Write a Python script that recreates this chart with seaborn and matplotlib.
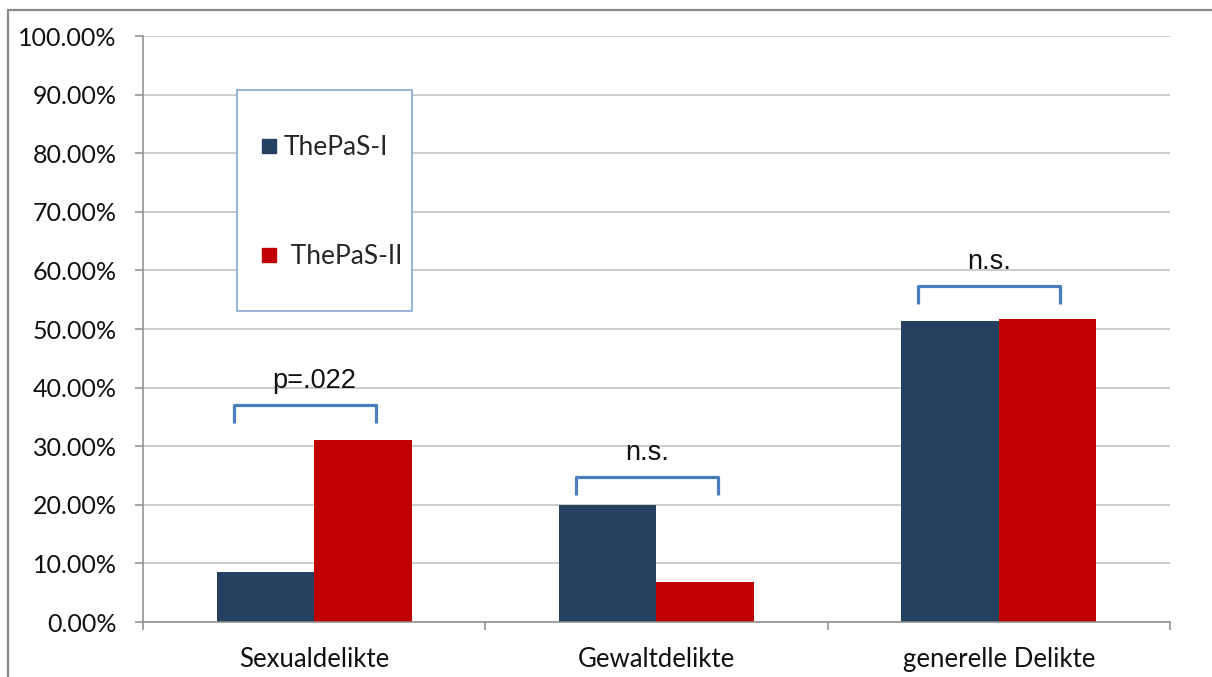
import matplotlib
matplotlib.use("Agg")
import matplotlib.pyplot as plt
from matplotlib.lines import Line2D
from matplotlib.patches import Rectangle
from matplotlib.ticker import FuncFormatter, FixedLocator
import seaborn as sns
import pandas as pd
import numpy as np

# ---- data ----
categories = ["Sexualdelikte", "Gewaltdelikte", "generelle Delikte"]
groups = ["ThePaS-I", "ThePaS-II"]
thepas_1 = [8.5, 20.0, 51.4]
thepas_2 = [31.0, 6.8, 51.7]
sig_labels = ["p=.022", "n.s.", "n.s."]
bracket_top = [37.0, 24.7, 57.3]
colors = ["#264061", "#C00000"]

df = pd.DataFrame({
    "Kategorie": categories * 2,
    "Gruppe": [groups[0]] * 3 + [groups[1]] * 3,
    "Anteil": thepas_1 + thepas_2,
})

sns.set_style("white")
plt.rcParams["font.family"] = ["Lato", "DejaVu Sans"]

fig = plt.figure(figsize=(12.12, 6.77), dpi=100)
ax = fig.add_axes([0.118, 0.0812, 0.8473, 0.8656])

sns.barplot(data=df, x="Kategorie", y="Anteil", hue="Gruppe",
            order=categories, hue_order=groups, palette=colors,
            width=0.57, saturation=1, linewidth=0, legend=False, ax=ax)

ax.set_ylim(0, 100)
ax.set_xlim(-0.5, len(categories) - 0.5)
ax.set_yticks(np.arange(0, 101, 10))
ax.yaxis.set_major_formatter(FuncFormatter(lambda v, p: f"{v:.2f}%"))
ax.yaxis.grid(True, color="#bfbfbf", linewidth=1.1)
ax.set_axisbelow(True)
ax.set_xlabel("")
ax.set_ylabel("")

for s in ["top", "right"]:
    ax.spines[s].set_visible(False)
for s in ["left", "bottom"]:
    ax.spines[s].set_color("#8c8c8c")
    ax.spines[s].set_linewidth(1.1)

ax.tick_params(axis="y", which="major", length=5.8, width=1.1, color="#8c8c8c",
               direction="out", pad=13, labelsize=18, labelcolor="#111111", left=True)
ax.tick_params(axis="x", which="major", length=0, pad=18, labelsize=18.5,
               labelcolor="#111111")
ax.xaxis.set_minor_locator(FixedLocator(np.arange(-0.5, len(categories), 1.0)))
ax.tick_params(axis="x", which="minor", length=5.8, width=1.1, color="#8c8c8c",
               direction="out", bottom=True)

# significance brackets
left_off, right_off, drop = -0.235, 0.18, 3.0
label_dx = [0.0, -0.0275, -0.0275]
for i, (lab, top) in enumerate(zip(sig_labels, bracket_top)):
    x0, x1 = i + left_off, i + right_off
    ax.plot([x0, x0, x1, x1], [top - drop, top, top, top - drop],
            color="#4a7ebb", linewidth=2.3, solid_joinstyle="round",
            solid_capstyle="butt", zorder=4)
    ax.text(i + label_dx[i], top + 3.0, lab, ha="center", va="baseline",
            fontsize=19.5, family=["Liberation Sans", "DejaVu Sans"], color="#111111")

# legend box (frame drawn separately to match the tall, narrow box)
ax.add_patch(Rectangle((0.0915, 0.531), 0.1705, 0.377, transform=ax.transAxes,
                       facecolor="white", edgecolor="#7ba0cf", linewidth=1.1,
                       zorder=5))
handles = [Line2D([], [], marker="s", linestyle="", markersize=10, color=c)
           for c in colors]
leg = ax.legend(handles, [groups[0], " " + groups[1]],
                loc="upper left", bbox_to_anchor=(0.1159, 0.831),
                borderaxespad=0, borderpad=0, frameon=False,
                fontsize=19, handlelength=0.53, handletextpad=0.3,
                labelspacing=3.18)
leg.set_zorder(6)

# outer chart frame (top and left edges)
fig.add_artist(Line2D([0.0066, 1.0], [0.985, 0.985], transform=fig.transFigure,
                      color="#8a8a8a", linewidth=1.6))
fig.add_artist(Line2D([0.0066, 0.0066], [0.0, 0.985], transform=fig.transFigure,
                      color="#8a8a8a", linewidth=1.6))

fig.savefig("out.png", dpi=100)
